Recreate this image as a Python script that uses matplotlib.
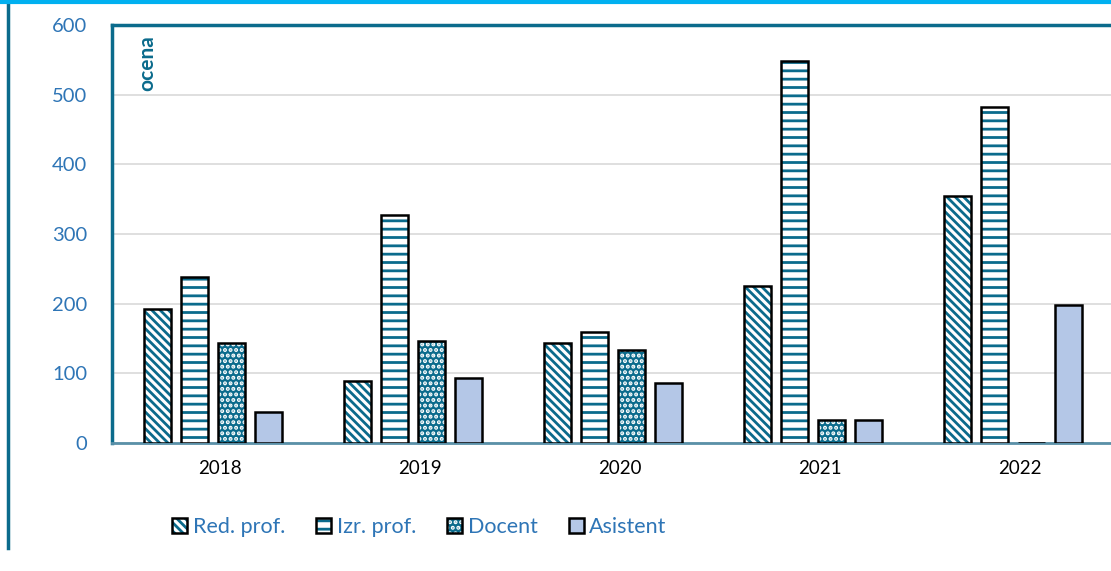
import matplotlib.pyplot as plt
from matplotlib.patches import Patch
from matplotlib.legend_handler import HandlerTuple
from matplotlib.lines import Line2D
import numpy as np

plt.rcParams['font.family'] = ['Lato', 'DejaVu Sans']
plt.rcParams['hatch.linewidth'] = 2.0

###############################################################################
# Data
###############################################################################
years = ['2018', '2019', '2020', '2021', '2022']
series = ['Red. prof.', 'Izr. prof.', 'Docent', 'Asistent']
red_prof = [193, 89, 143, 225, 355]
izr_prof = [238, 327, 160, 548, 482]
docent = [143, 146, 133, 33, 0]
asistent = [45, 93, 86, 33, 198]

teal = '#0B6B8C'
blue_txt = '#2E75B6'
asist_col = '#B4C7E7'

# (facecolor, hatch, hatch colour) per series
styles = [('white', '\\\\\\\\', teal),
          ('white', '--', teal),
          (teal, '...', 'white'),
          (asist_col, None, asist_col)]

###############################################################################
# Figure
###############################################################################
fig = plt.figure(figsize=(11.11, 5.71), dpi=100)
ax = fig.add_axes([112/1111, 1-443/571, 1-112/1111, (443-25)/571])

x = np.arange(len(years))
step = 0.185
width = 0.135
handles = []
for i, vals in enumerate([red_prof, izr_prof, docent, asistent]):
    fc, hatch, hc = styles[i]
    pos = x + (i - 1.5) * step - 0.035
    ax.bar(pos, vals, width, color=fc, hatch=hatch, edgecolor=hc, linewidth=0, zorder=3)
    ax.bar(pos, vals, width, facecolor='none', edgecolor='black', linewidth=1.8, zorder=4)
    h1 = Patch(facecolor=fc, hatch=hatch, edgecolor=hc, linewidth=0)
    h2 = Patch(facecolor='none', edgecolor='black', linewidth=1.8)
    handles.append((h1, h2))

ax.set_xlim(-0.54, 4.455)
ax.set_ylim(0, 600)
ax.set_yticks(range(0, 601, 100))
ax.set_xticks(x)
ax.set_xticklabels(years)
ax.tick_params(axis='y', length=0, pad=18, labelsize=14.5, labelcolor=blue_txt)
ax.tick_params(axis='x', length=0, pad=12, labelsize=13.5)
ax.grid(axis='y', color='#D9D9D9', linewidth=1.2, zorder=0)
ax.set_axisbelow(True)

for s in ['top', 'left']:
    ax.spines[s].set_color(teal)
    ax.spines[s].set_linewidth(2.5)
ax.spines['right'].set_visible(False)
ax.spines['bottom'].set_color('#5A90A8')
ax.spines['bottom'].set_linewidth(2)

ax.text(0.025, 0.975, 'ocena', transform=ax.transAxes, rotation=90, ha='left', va='top',
        fontsize=15, fontweight='bold', color=teal)

fig.legend(handles, series, handler_map={tuple: HandlerTuple(ndivide=1)},
           loc='center left', bbox_to_anchor=(157/1111, 1-527/571), ncol=4, frameon=False,
           fontsize=15.5, labelcolor=blue_txt, handlelength=0.7, handleheight=0.7,
           handletextpad=0.25, columnspacing=1.45, borderpad=0.2)

# page decorations
fig.add_artist(Line2D([8/1111, 8/1111], [1-548/571, 1], color=teal, linewidth=2.5))
fig.add_artist(Line2D([0, 1], [1-1.5/571, 1-1.5/571], color='#00B0F0', linewidth=3))

plt.savefig('out.png', dpi=100)
